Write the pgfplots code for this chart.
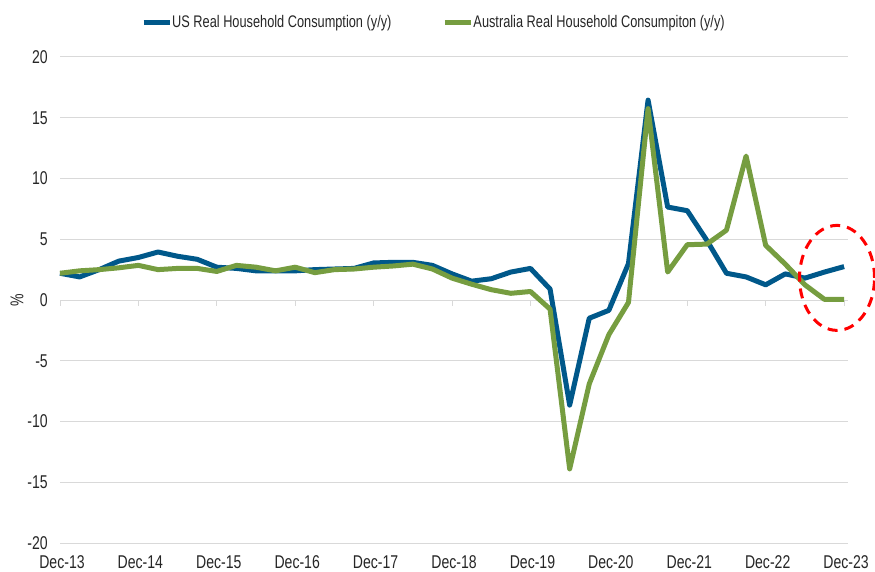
\documentclass[border=0pt]{standalone}
\usepackage{fontspec}
\setmainfont{Liberation Sans}[FakeStretch=0.76]
\usepackage{pgfplots}
\pgfplotsset{compat=1.18}
\definecolor{usblue}{RGB}{0,88,138}
\definecolor{augreen}{RGB}{118,157,64}
\definecolor{gridgray}{RGB}{217,217,217}

\pgfplotstableread{
i us au
0 2.2 2.2
1 1.9 2.4
2 2.5 2.5
3 3.2 2.65
4 3.5 2.85
5 3.95 2.5
6 3.6 2.6
7 3.35 2.6
8 2.7 2.35
9 2.6 2.85
10 2.4 2.7
11 2.4 2.4
12 2.4 2.7
13 2.5 2.25
14 2.55 2.5
15 2.6 2.55
16 3.05 2.7
17 3.1 2.8
18 3.1 2.95
19 2.85 2.55
20 2.15 1.8
21 1.55 1.3
22 1.75 0.85
23 2.3 0.55
24 2.6 0.7
25 0.9 -0.75
26 -8.65 -13.9
27 -1.5 -6.9
28 -0.85 -2.85
29 3.0 -0.2
30 16.45 15.75
31 7.65 2.3
32 7.35 4.55
33 4.9 4.6
34 2.2 5.75
35 1.9 11.85
36 1.25 4.5
37 2.15 2.95
38 1.8 1.25
39 2.3 0.05
40 2.75 0.05
}\datatable

\begin{document}
\begin{tikzpicture}
\begin{axis}[
  at={(60pt,28pt)}, anchor=south west,
  scale only axis, width=788pt, height=486pt,
  xmin=0, xmax=40.2, ymin=-20, ymax=20,
  ytick={-20,-15,...,20},
  xtick={0,4,...,40},
  xticklabels={Dec-13,Dec-14,Dec-15,Dec-16,Dec-17,Dec-18,Dec-19,Dec-20,Dec-21,Dec-22,Dec-23},
  axis line style={draw=none},
  major tick length=0pt,
  ymajorgrids, grid style={gridgray, line width=1pt},
  tick label style={font=\fontsize{18.5}{20}\selectfont, text=black!85},
  /pgf/number format/assume math mode=true,
  yticklabel style={inner sep=0pt, xshift=-12pt},
  xticklabel style={anchor=base, inner sep=0pt, yshift=-25pt, xshift=2pt},
  ylabel={\%},
  ylabel style={at={([xshift=-43pt]axis description cs:0,0.5)}, anchor=center, rotate=0, font=\fontsize{18.5}{20}\selectfont, text=black!85},
  legend columns=2,
  legend style={at={(axis description cs:0.1028,1.072)}, anchor=west, draw=none, fill=none, inner sep=0pt,
    font=\fontsize{16.8}{19}\selectfont, text=black!85, nodes={inner sep=0pt},
    /tikz/every even column/.append style={column sep=51pt}},
  legend cell align=left,
  legend image code/.code={\draw[#1, line width=5pt] (0pt,0pt) -- (26pt,0pt);},
  clip=false,
]
\pgfplotsinvokeforeach{0,4,...,40}{\draw[gridgray, line width=1pt] (axis cs:#1,0) -- ([yshift=-6pt]axis cs:#1,0);}
\addplot[usblue, line width=5pt, line join=round] table[x=i, y=us] {\datatable};
\addlegendentry{US Real Household Consumption (y/y)}
\addplot[augreen, line width=5pt, line join=round] table[x=i, y=au] {\datatable};
\addlegendentry{Australia Real Household Consumpiton (y/y)}
\draw[red, line width=3pt, dash pattern=on 10pt off 7pt] (axis cs:39.64,1.82) ellipse [x radius=37.5pt, y radius=52.5pt];
\end{axis}
\pgfresetboundingbox
\path[use as bounding box] (0,0) rectangle (875pt,571pt);
\end{tikzpicture}
\end{document}
